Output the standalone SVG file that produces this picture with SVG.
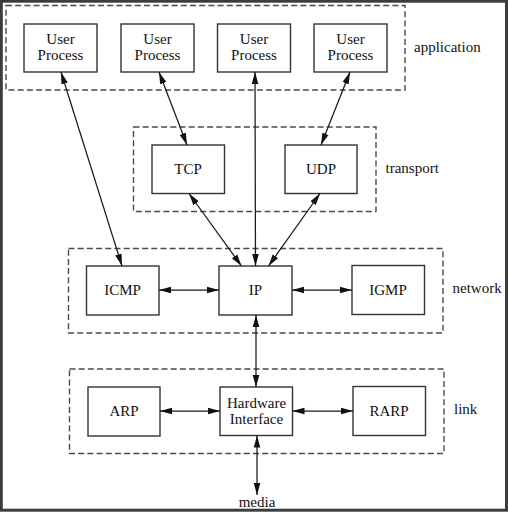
<svg xmlns="http://www.w3.org/2000/svg" width="508" height="512" viewBox="0 0 508 512">
<defs>
<style>
.frame{fill:none;stroke:#3c3c3c;stroke-width:3}
.layer{fill:none;stroke:#4a4a4a;stroke-width:1.4;stroke-dasharray:6 3.2}
.box{fill:#fff;stroke:#333;stroke-width:1.4}
text{font-family:"Liberation Serif","Times New Roman",serif;font-size:15px;fill:#111}
.c{text-anchor:middle}
.conn line{stroke:#1a1a1a;stroke-width:1.25;marker-start:url(#ah);marker-end:url(#ah)}
</style>
<marker id="ah" viewBox="0 0 12 8" refX="12" refY="4" markerWidth="12" markerHeight="8" markerUnits="userSpaceOnUse" orient="auto-start-reverse">
<path d="M0,0.7 L12,4 L0,7.3 Z" fill="#111"/>
</marker>
</defs>
<rect width="508" height="512" fill="#fff"/>
<rect class="frame" x="1.3" y="1.2" width="505.2" height="509"/>

<g id="layers">
<rect class="layer" x="6" y="5.5" width="399" height="84.5"/>
<rect class="layer" x="133.5" y="127" width="242.5" height="84.5"/>
<rect class="layer" x="68.5" y="248.5" width="374.5" height="84.5"/>
<rect class="layer" x="69.5" y="369" width="374.5" height="84.5"/>
<text x="414" y="52">application</text>
<text x="385.5" y="173">transport</text>
<text x="452.5" y="293">network</text>
<text x="454" y="414">link</text>
<text class="c" x="257" y="507">media</text>
</g>

<g id="up1"><rect class="box" x="24" y="24" width="73" height="48"/><text class="c" x="60.5" y="43.5">User</text><text class="c" x="60.5" y="60">Process</text></g>
<g id="up2"><rect class="box" x="121" y="24" width="73" height="48"/><text class="c" x="157.5" y="43.5">User</text><text class="c" x="157.5" y="60">Process</text></g>
<g id="up3"><rect class="box" x="217.5" y="24" width="73" height="48"/><text class="c" x="254" y="43.5">User</text><text class="c" x="254" y="60">Process</text></g>
<g id="up4"><rect class="box" x="314" y="24" width="73" height="48"/><text class="c" x="350.5" y="43.5">User</text><text class="c" x="350.5" y="60">Process</text></g>

<g id="tcp"><rect class="box" x="152" y="145" width="72.5" height="48.5"/><text class="c" x="188" y="173.5">TCP</text></g>
<g id="udp"><rect class="box" x="285" y="145" width="72" height="48.5"/><text class="c" x="321" y="173.5">UDP</text></g>

<g id="icmp"><rect class="box" x="86.5" y="266" width="72.5" height="49"/><text class="c" x="122.5" y="295">ICMP</text></g>
<g id="ip"><rect class="box" x="219" y="266" width="73" height="49"/><text class="c" x="255.5" y="295">IP</text></g>
<g id="igmp"><rect class="box" x="352" y="265.5" width="72.5" height="49"/><text class="c" x="388" y="295">IGMP</text></g>

<g id="arp"><rect class="box" x="88" y="387" width="72" height="49"/><text class="c" x="124" y="416">ARP</text></g>
<g id="hw"><rect class="box" x="220" y="387" width="72.5" height="48.5"/><text class="c" x="256.5" y="407.5">Hardware</text><text class="c" x="256.5" y="424">Interface</text></g>
<g id="rarp"><rect class="box" x="353" y="386.5" width="72.5" height="49"/><text class="c" x="389" y="416">RARP</text></g>

<g id="connectors" class="conn">
<line x1="61" y1="72" x2="122" y2="266"/>
<line x1="159" y1="72" x2="187" y2="145"/>
<line x1="255" y1="72" x2="255.5" y2="266"/>
<line x1="350" y1="72" x2="321" y2="145"/>
<line x1="189" y1="193.5" x2="241.5" y2="266"/>
<line x1="320" y1="193.5" x2="268.5" y2="266"/>
<line x1="159" y1="290" x2="219" y2="290"/>
<line x1="292" y1="290" x2="352" y2="290"/>
<line x1="256" y1="315" x2="256" y2="387"/>
<line x1="160" y1="411" x2="220" y2="411"/>
<line x1="292.5" y1="411" x2="353" y2="411"/>
<line x1="257" y1="435.5" x2="257" y2="495"/>
</g>
</svg>
